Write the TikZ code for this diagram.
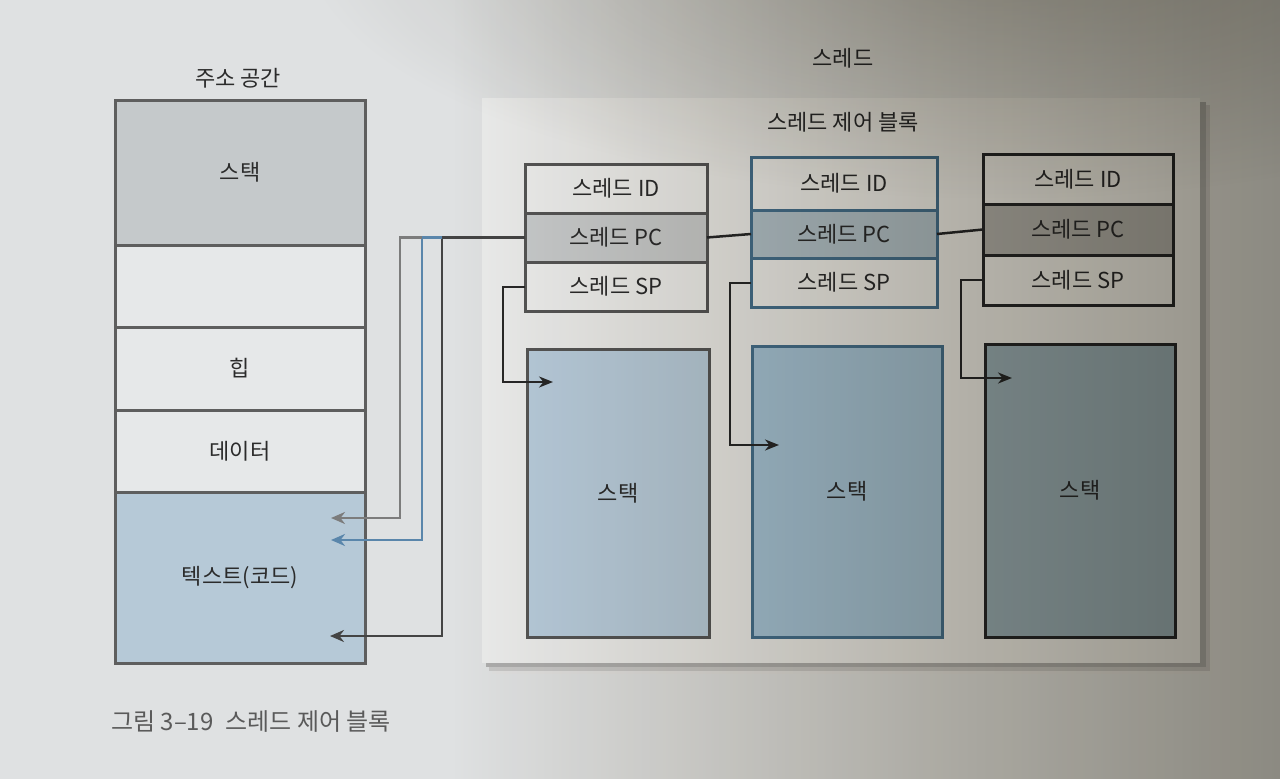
\documentclass[tikz,border=0pt]{standalone}
\usepackage{fontspec}
\setmainfont{Noto Sans CJK KR}
\usetikzlibrary{arrows.meta}
\definecolor{bgc}{HTML}{DFE1E2}
\definecolor{panelc}{HTML}{EBECEC}
\definecolor{txt}{HTML}{2B2B2B}
\definecolor{capc}{HTML}{5A5A5A}
\definecolor{asborder}{HTML}{5E5E5E}
\definecolor{asstack}{HTML}{C5C9CB}
\definecolor{asempty}{HTML}{E6E8E9}
\definecolor{astext}{HTML}{B6C9D7}
\definecolor{bA}{HTML}{555555}
\definecolor{bB}{HTML}{46708F}
\definecolor{bC}{HTML}{282828}
\definecolor{idc}{HTML}{EDEEEE}
\definecolor{pcA}{HTML}{C8CBCD}
\definecolor{pcB}{HTML}{B2C2CD}
\definecolor{pcC}{HTML}{B1B1AF}
\definecolor{stA}{HTML}{B8CCDD}
\definecolor{stB}{HTML}{A6C4DA}
\definecolor{stC}{HTML}{9AAFBA}
\definecolor{lnDark}{HTML}{444444}
\definecolor{lnBlue}{HTML}{5A86AB}
\definecolor{lnGray}{HTML}{7C7C7C}
\definecolor{Lone}{rgb}{0.89,0.88,0.86}
\definecolor{Ltwo}{rgb}{0.77,0.755,0.72}
\definecolor{Lthree}{rgb}{0.66,0.645,0.605}
\definecolor{Lfour}{rgb}{0.63,0.615,0.575}
\definecolor{Ltop}{rgb}{0.76,0.75,0.72}
\pgfdeclarehorizontalshading{lightshade}{100bp}{color(0bp)=(white); color(25bp)=(white); color(42.6bp)=(white); color(52.3bp)=(Lone); color(62.1bp)=(Ltwo); color(71.9bp)=(Lthree); color(75bp)=(Lfour); color(100bp)=(Lfour)}
\begin{document}
\begin{tikzpicture}[x=1pt,y=-1pt,
  lbl/.style={font=\fontsize{22}{26}\selectfont, text=txt, inner sep=0pt},
  asrow/.style={lbl, draw=asborder, line width=3pt, minimum width=250pt, outer sep=0pt},
  cell/.style={lbl, line width=3pt, outer sep=0pt},
  stackbox/.style={lbl, line width=3pt, outer sep=0pt},
  conn/.style={line width=2.5pt},
  tip/.style={-{Stealth[length=14pt,width=12pt,inset=4.5pt]}},
  spconn/.style={line width=2pt, draw=bC, -{Stealth[length=14pt,width=11pt,inset=4.5pt]}}
]
\useasboundingbox (0,0) rectangle (1280,779);
\fill[bgc] (0,0) rectangle (1280,779);

% address space
\node[lbl] (astitle) at (238,78) {주소 공간};
\node[asrow, fill=asstack, minimum height=145pt] (as1) at (240,172.5) {스택};
\node[asrow, fill=asempty, minimum height=82pt] (as2) at (240,286) {};
\node[asrow, fill=asempty, minimum height=83pt] (as3) at (240,368.5) {힙};
\node[asrow, fill=asempty, minimum height=82pt] (as4) at (240,451) {데이터};
\node[asrow, fill=astext, minimum height=171pt] (as5) at (240,577.5) {텍스트(코드)};

% thread panel with soft shadow
\fill[black!12] (492,108) rectangle (1213,674);
\fill[black!22] (489,105) rectangle (1210,671);
\fill[black!32] (486,102) rectangle (1206,667);
\node[fill=panelc, minimum width=718pt, minimum height=565pt, inner sep=0pt] (panel) at (841,380.5) {};
\node[lbl] (thrtitle) at (843,58) {스레드};
\node[lbl] (tcbtitle) at (843,122) {스레드 제어 블록};

% TCB 1
\node[cell, draw=bA, fill=idc, minimum width=182pt, minimum height=49pt] (id1) at (616,188.5) {스레드 ID};
\node[cell, draw=bA, fill=pcA, minimum width=182pt, minimum height=49pt] (pc1) at (616,237.5) {스레드 PC};
\node[cell, draw=bA, fill=idc, minimum width=182pt, minimum height=49pt] (sp1) at (616,286.5) {스레드 SP};
% TCB 2
\node[cell, draw=bB, fill=idc, minimum width=186pt, minimum height=53pt] (id2) at (844,183.5) {스레드 ID};
\node[cell, draw=bB, fill=pcB, minimum width=186pt, minimum height=48pt] (pc2) at (844,234) {스레드 PC};
\node[cell, draw=bB, fill=idc, minimum width=186pt, minimum height=49pt] (sp2) at (844,282.5) {스레드 SP};
% TCB 3
\node[cell, draw=bC, fill=idc, minimum width=190pt, minimum height=50pt] (id3) at (1078,179) {스레드 ID};
\node[cell, draw=bC, fill=pcC, minimum width=190pt, minimum height=51pt] (pc3) at (1078,229.5) {스레드 PC};
\node[cell, draw=bC, fill=idc, minimum width=190pt, minimum height=50pt] (sp3) at (1078,280) {스레드 SP};

% stacks
\node[stackbox, draw=bA, fill=stA, minimum width=182pt, minimum height=288pt] (st1) at (618,493) {스택};
\node[stackbox, draw=bB, fill=stB, minimum width=190pt, minimum height=291pt] (st2) at (847,491.5) {스택};
\node[stackbox, draw=bC, fill=stC, minimum width=190pt, minimum height=293pt] (st3) at (1080,490.5) {스택};

% PC connectors
\coordinate (jd) at (442,237.5);
\coordinate (jb) at (422,237.5);
\coordinate (tDark) at (330,636);
\coordinate (tBlue) at (331,540);
\coordinate (tGray) at (331,518);
\draw[conn, draw=bC] (pc1.east) -- (pc2.west);
\draw[conn, draw=bC] (pc2.east) -- (pc3.west);
\draw[conn, draw=lnDark, tip] (pc1.west) -- (jd) |- (tDark);
\draw[conn, draw=lnBlue, tip] (jd) -- (jb) |- (tBlue);
\draw[conn, draw=lnGray, tip] (jb) -- (400,237.5) |- (tGray);

% SP connectors
\coordinate (a1) at (553,382);
\coordinate (a2) at (779,445);
\coordinate (a3) at (1012,378);
\draw[spconn] (sp1.west) -- ++(-22,0) |- (a1);
\draw[spconn] (sp2.west) -- ++(-21,0) |- (a2);
\draw[spconn] (sp3.west) -- ++(-22,0) |- (a3);

% caption
\node[lbl, text=capc, anchor=west, font=\fontsize{24}{28}\selectfont] (caption) at (111,722) {그림 3–19\hspace{12pt}스레드 제어 블록};

% lighting of the photograph
\begin{scope}[blend mode=multiply]
\shade[shading=lightshade] (0,0) rectangle (1280,779);
\shade[inner color=Ltop, outer color=white] (300,-320) rectangle (1700,200);
\end{scope}
\end{tikzpicture}
\end{document}
